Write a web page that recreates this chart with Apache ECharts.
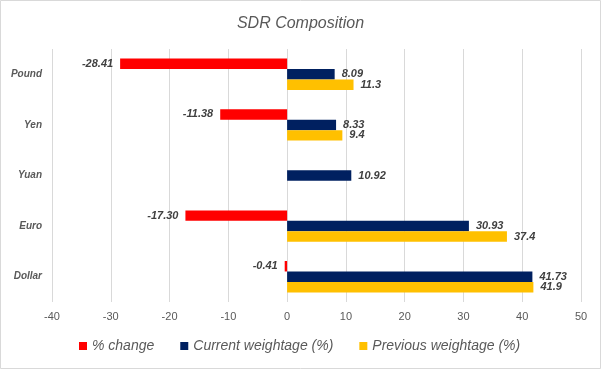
<!DOCTYPE html>
<html>
<head>
<meta charset="utf-8">
<script src="https://cdn.jsdelivr.net/npm/echarts@6/dist/echarts.min.js"></script>
<style>
html,body{margin:0;padding:0;background:#fff;}
#c{width:601px;height:369px;}
</style>
</head>
<body>
<div id="c"></div>
<script>
const categories = ['Dollar', 'Euro', 'Yuan', 'Yen', 'Pound'];
const pctChange = [-0.41, -17.30, null, -11.38, -28.41];
const currentWeight = [41.73, 30.93, 10.92, 8.33, 8.09];
const previousWeight = [41.9, 37.4, null, 9.4, 11.3];
const xTicks = { min: -40, max: 50, interval: 10 };

const chart = echarts.init(document.getElementById('c'));
const labelStyle = {
  show: true,
  fontFamily: 'Liberation Sans',
  fontStyle: 'italic',
  fontWeight: 'bold',
  fontSize: 11,
  color: '#404040',
  distance: 7
};
chart.setOption({
  animation: false,
  backgroundColor: '#fff',
  graphic: [{
    type: 'rect',
    shape: { x: 0.5, y: 0.5, width: 600, height: 368 },
    style: { fill: 'none', stroke: '#d9d9d9', lineWidth: 1 },
    silent: true
  }],
  title: {
    text: 'SDR Composition',
    left: 'center',
    top: 11,
    textStyle: {
      fontFamily: 'Liberation Sans',
      fontStyle: 'italic',
      fontWeight: 'normal',
      fontSize: 16,
      color: '#595959'
    }
  },
  legend: {
    left: 79,
    top: 339,
    padding: 0,
    itemWidth: 8,
    itemHeight: 8,
    itemGap: 26,
    icon: 'rect',
    textStyle: {
      fontFamily: 'Liberation Sans',
      fontStyle: 'italic',
      fontSize: 14,
      color: '#595959'
    },
    data: ['% change', 'Current weightage (%)', 'Previous weightage (%)']
  },
  grid: { left: 52, right: 20, top: 49, bottom: 67, containLabel: false },
  xAxis: {
    type: 'value',
    min: xTicks.min,
    max: xTicks.max,
    interval: xTicks.interval,
    axisLine: { show: false },
    axisTick: { show: false },
    splitLine: { show: true, lineStyle: { color: '#d9d9d9', width: 1 } },
    axisLabel: {
      margin: 9,
      fontFamily: 'Liberation Sans',
      fontSize: 11,
      color: '#595959'
    }
  },
  yAxis: {
    type: 'category',
    data: categories,
    axisLine: { show: false, onZero: false },
    axisTick: { show: false },
    splitLine: { show: false },
    axisLabel: {
      margin: 10,
      fontFamily: 'Liberation Sans',
      fontStyle: 'italic',
      fontWeight: 'bold',
      fontSize: 10,
      color: '#595959'
    }
  },
  series: [
    {
      name: '% change',
      type: 'bar',
      data: pctChange,
      itemStyle: { color: '#FF0000' },
      barGap: '0%',
      barCategoryGap: '38%',
      label: Object.assign({}, labelStyle, {
        position: 'left',
        formatter: p => (p.value == null ? '' : Number(p.value).toFixed(2))
      })
    },
    {
      name: 'Current weightage (%)',
      type: 'bar',
      data: currentWeight,
      itemStyle: { color: '#002060' },
      barGap: '0%',
      barCategoryGap: '38%',
      label: Object.assign({}, labelStyle, { position: 'right' })
    },
    {
      name: 'Previous weightage (%)',
      type: 'bar',
      data: previousWeight,
      itemStyle: { color: '#FFC000' },
      barGap: '0%',
      barCategoryGap: '38%',
      label: Object.assign({}, labelStyle, {
        position: 'right',
        formatter: p => (p.value == null ? '' : String(p.value))
      })
    }
  ]
});
</script>
</body>
</html>
